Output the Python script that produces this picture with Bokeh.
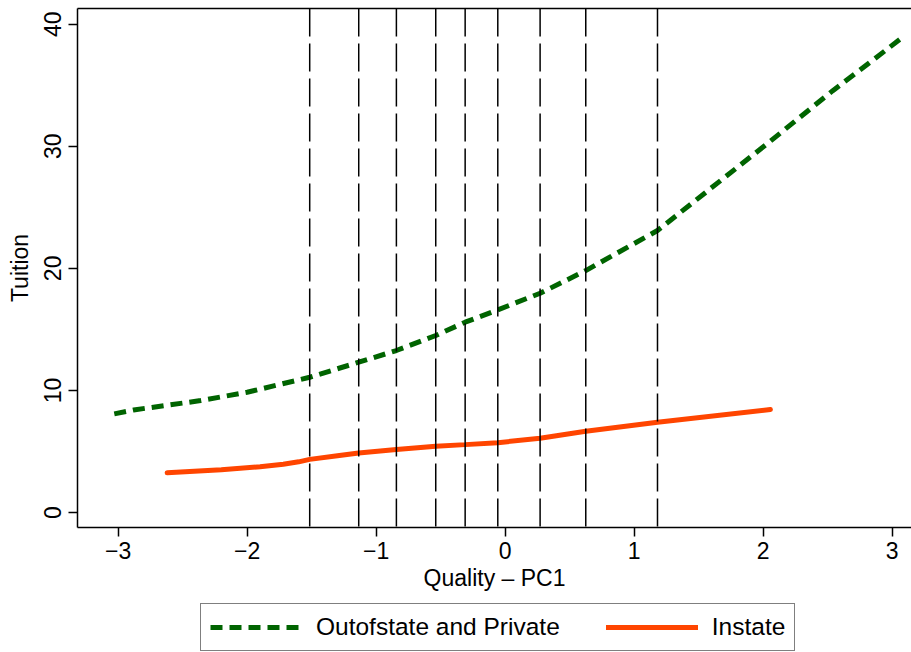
from bokeh.plotting import figure
from bokeh.layouts import column
from bokeh.models import Span, Legend, LegendItem, LinearAxis, FixedTicker, Range1d
from bokeh.embed import file_html
from bokeh.resources import INLINE

# Fitted tuition curves against the quality index (PC1)
out_x = [-3.03, -2.88, -2.36, -2.0, -1.515, -1.135, -0.843, -0.538, -0.31, -0.057,
         0.271, 0.625, 1.181, 2.03, 2.54, 3.09]
out_y = [8.08, 8.40, 9.17, 9.85, 11.08, 12.31, 13.27, 14.5, 15.59, 16.6,
         17.96, 19.82, 23.1, 30.2, 34.56, 39.0]

in_x = [-2.62, -2.2, -1.9, -1.72, -1.6, -1.515, -1.3, -1.135, -0.843, -0.538,
        -0.31, -0.057, 0.271, 0.625, 1.181, 2.056]
in_y = [3.25, 3.5, 3.75, 3.95, 4.15, 4.35, 4.65, 4.88, 5.16, 5.42,
        5.56, 5.72, 6.08, 6.65, 7.39, 8.43]

# Decile cut points of the quality index
cutpoints = [-1.515, -1.135, -0.843, -0.538, -0.31, -0.057, 0.271, 0.625, 1.181]

x_ticks = [-3, -2, -1, 0, 1, 2, 3]
y_ticks = [0, 10, 20, 30, 40]

labels = ["Outofstate and Private", "Instate"]

FONT = "Liberation Sans"
FS = "23px"
GREEN = "#006400"
ORANGE = "#FF4500"
OUT_STYLE = dict(line_color=GREEN, line_width=5, line_dash="12 7")
IN_STYLE = dict(line_color=ORANGE, line_width=5, line_cap="round")

p = figure(width=911, height=603, output_backend="svg", toolbar_location=None,
           x_range=Range1d(-3.315, 3.150), y_range=Range1d(-1.23, 41.29),
           min_border_left=77, min_border_right=0, min_border_top=8,
           min_border_bottom=76, outline_line_color=None,
           background_fill_color="white", border_fill_color="white")
p.grid.visible = False

for ax, ticks in ((p.xaxis[0], x_ticks), (p.yaxis[0], y_ticks)):
    ax.ticker = FixedTicker(ticks=ticks)
    ax.major_label_overrides = {t: (("\u2212" + str(-t)) if t < 0 else str(t)) for t in ticks}
    ax.minor_tick_line_color = None
    ax.major_tick_in = 0
    ax.major_tick_out = 9
    ax.major_tick_line_width = 1.5
    ax.axis_line_width = 1.5
    ax.major_label_text_font = FONT
    ax.major_label_text_font_size = FS
    ax.major_label_text_color = "black"
    ax.axis_label_text_font = FONT
    ax.axis_label_text_font_size = FS
    ax.axis_label_text_font_style = "normal"
    ax.axis_label_text_color = "black"

p.xaxis.axis_label = "Quality \u2013 PC1"
p.yaxis.axis_label = "Tuition"
p.yaxis.major_label_orientation = "vertical"
p.xaxis.major_label_standoff = 5
p.xaxis.axis_label_standoff = 3
p.yaxis.major_label_standoff = 7
p.yaxis.axis_label_standoff = 9

# top edge of the plot region
top = LinearAxis(ticker=FixedTicker(ticks=[]), major_label_text_font_size="0px",
                 major_tick_line_color=None, minor_tick_line_color=None,
                 axis_line_width=1.5)
p.add_layout(top, "above")

for c in cutpoints:
    p.add_layout(Span(location=c, dimension="height", line_color="black",
                      line_width=1.5, line_dash="28 7"))

p.line(out_x, out_y, **OUT_STYLE)
p.line(in_x, in_y, **IN_STYLE)

# legend strip underneath the plot; its own copies of the curves stay out of view
lg = figure(width=911, height=49, output_backend="svg", toolbar_location=None,
            x_axis_location=None, y_axis_location=None,
            x_range=Range1d(10, 11), y_range=Range1d(100, 101),
            min_border_left=77, min_border_right=0, min_border_top=0,
            min_border_bottom=0, outline_line_color=None,
            background_fill_color="white", border_fill_color="white")
lg.grid.visible = False
k_out = lg.line(out_x, out_y, **OUT_STYLE)
k_in = lg.line(in_x, in_y, **IN_STYLE)

legend = Legend(items=[LegendItem(label=labels[0], renderers=[k_out]),
                       LegendItem(label=labels[1], renderers=[k_in])],
                location=(123, 1), orientation="horizontal",
                border_line_color="black", border_line_width=1,
                background_fill_color="white", background_fill_alpha=1,
                label_text_font=FONT, label_text_font_size="24.5px",
                label_text_color="black",
                glyph_width=92, glyph_height=24, label_standoff=14,
                spacing=46, padding=9, margin=0)
lg.add_layout(legend, "center")

open("out.html", "w").write(file_html(column(p, lg, spacing=0), INLINE))
